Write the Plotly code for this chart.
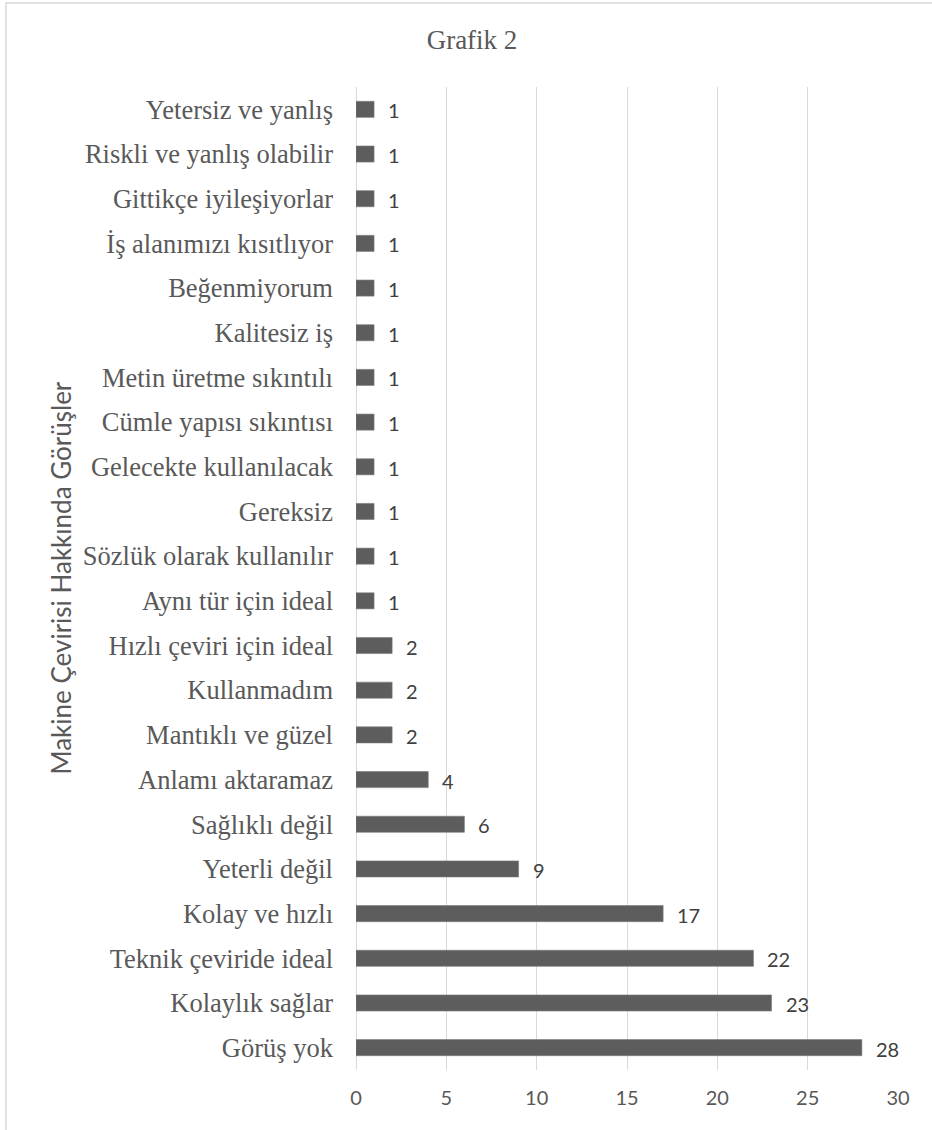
import plotly.graph_objects as go

categories = [
    "Yetersiz ve yanlış",
    "Riskli ve yanlış olabilir",
    "Gittikçe iyileşiyorlar",
    "İş alanımızı kısıtlıyor",
    "Beğenmiyorum",
    "Kalitesiz iş",
    "Metin üretme sıkıntılı",
    "Cümle yapısı sıkıntısı",
    "Gelecekte kullanılacak",
    "Gereksiz",
    "Sözlük olarak kullanılır",
    "Aynı tür için ideal",
    "Hızlı çeviri için ideal",
    "Kullanmadım",
    "Mantıklı ve güzel",
    "Anlamı aktaramaz",
    "Sağlıklı değil",
    "Yeterli değil",
    "Kolay ve hızlı",
    "Teknik çeviride ideal",
    "Kolaylık sağlar",
    "Görüş yok",
]
values = [1, 1, 1, 1, 1, 1, 1, 1, 1, 1, 1, 1, 2, 2, 2, 4, 6, 9, 17, 22, 23, 28]
x_ticks = [0, 5, 10, 15, 20, 25, 30]

SERIF = "Liberation Serif, Times New Roman, serif"
SANS = "Lato, Open Sans, sans-serif"

fig = go.Figure()
fig.add_trace(go.Bar(
    x=values,
    y=categories,
    orientation="h",
    marker=dict(color="#5d5d5d", line=dict(color="#7a7a7a", width=0.6)),
    width=0.36,
    hoverinfo="skip",
))

for c, v in zip(categories, values):
    fig.add_annotation(
        x=v, y=c, xref="x", yref="y", text=str(v), showarrow=False,
        xanchor="left", xshift=12, yshift=-1,
        font=dict(family=SANS, size=20, color="#404040"),
    )

fig.add_annotation(
    x=-0.546, y=0.5, xref="paper", yref="paper",
    xanchor="center", yanchor="middle",
    text="Makine Çevirisi Hakkında Görüşler", textangle=-90, showarrow=False,
    font=dict(family=SANS, size=26, color="#595959"),
)

fig.add_shape(
    type="rect", xref="paper", yref="paper",
    x0=-0.6458, x1=1.09, y0=-0.08, y1=1.0855,
    line=dict(color="#d9d9d9", width=1.5), fillcolor="rgba(0,0,0,0)", layer="below",
)

fig.update_layout(
    width=932, height=1130,
    margin=dict(l=356, r=34, t=87, b=60),
    paper_bgcolor="white", plot_bgcolor="white",
    showlegend=False,
    title=dict(
        text="Grafik 2", x=472 / 932, xref="container",
        xanchor="center", y=1 - 40 / 1130, yanchor="middle",
        font=dict(family=SERIF, size=27, color="#595959"),
    ),
    xaxis=dict(
        range=[0, 30], tickvals=x_ticks, ticktext=[str(t) for t in x_ticks],
        showgrid=True, gridcolor="#d9d9d9", gridwidth=1,
        zeroline=True, zerolinecolor="#d9d9d9", zerolinewidth=1,
        showline=False, ticks="", ticklabelstandoff=14,
        tickfont=dict(family=SANS, size=20, color="#595959"),
        fixedrange=True,
    ),
    yaxis=dict(
        autorange="reversed", showgrid=False, zeroline=False, showline=False,
        ticks="", ticklabelstandoff=22,
        tickfont=dict(family=SERIF, size=26.5, color="#595959"),
        fixedrange=True,
    ),
)

fig.write_html(
    "out.html",
    config={"displayModeBar": False},
    post_script="document.body.style.margin='0px';",
)
